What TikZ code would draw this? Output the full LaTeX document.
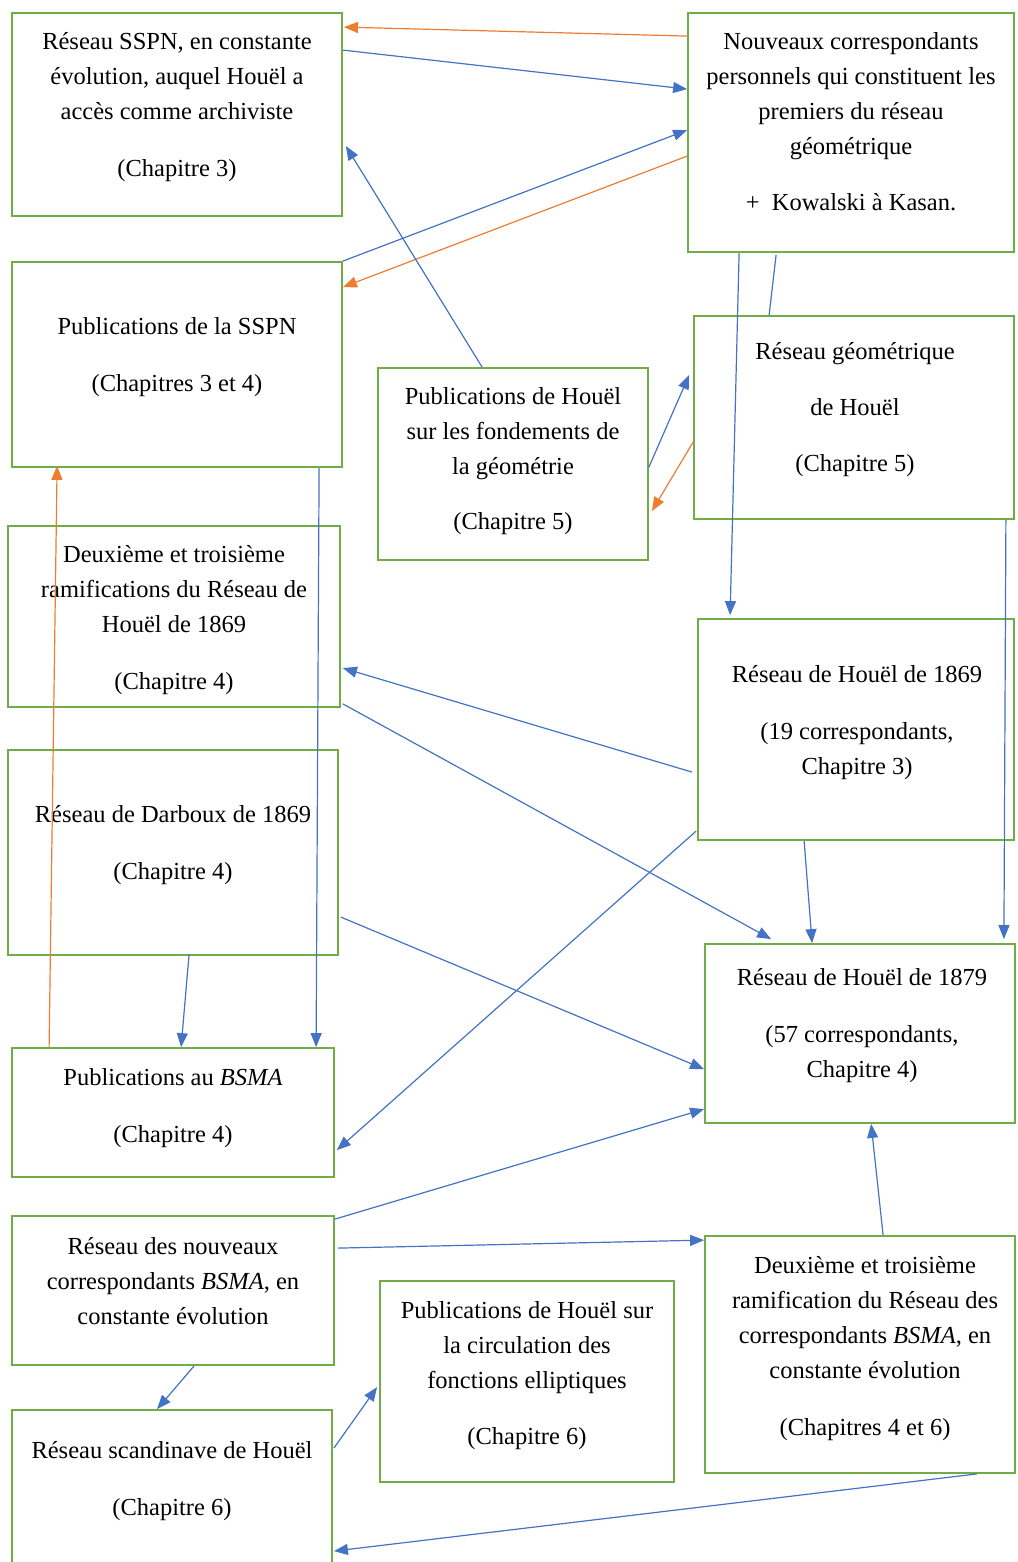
\documentclass[tikz,border=0pt]{standalone}
\usepackage{fontspec}
\setmainfont{Liberation Serif}
\newfontfamily\diagserif{Liberation Serif}
\usetikzlibrary{arrows.meta,calc}
\definecolor{boxgreen}{HTML}{70AD47}
\definecolor{arrblue}{HTML}{4472C4}
\definecolor{arrorange}{HTML}{ED7D31}
\tikzset{
  box/.style={draw=boxgreen, line width=1.8pt, rectangle, inner sep=0pt},
  txt/.style={anchor=north, align=center, inner sep=0pt, text=black,
    font=\diagserif\fontsize{24.5}{35}\selectfont},
  barrow/.style={draw=arrblue, line width=1.2pt, -{Triangle[length=14pt,width=11pt]}},
  oarrow/.style={draw=arrorange, line width=1.2pt, -{Triangle[length=14pt,width=11pt]}},
  bline/.style={draw=arrblue, line width=1.2pt},
}
\begin{document}
\begin{tikzpicture}[x=1pt,y=-1pt]
\useasboundingbox (0,0) rectangle (1017,1562);
\clip (0,0) rectangle (1017,1562);
% boxes
\node[box, minimum width=330pt, minimum height=203pt] (sspn) at (177,114.5) {};
\node[box, minimum width=326pt, minimum height=239pt] (nouv) at (851,132.5) {};
\node[box, minimum width=330pt, minimum height=205pt] (pubsspn) at (177,364.5) {};
\node[box, minimum width=270pt, minimum height=192pt] (fond) at (513,464) {};
\node[box, minimum width=320pt, minimum height=203pt] (geom) at (854,417.5) {};
\node[box, minimum width=332pt, minimum height=181pt] (ram69) at (174,616.5) {};
\node[box, minimum width=330pt, minimum height=205pt] (darb) at (173,852.5) {};
\node[box, minimum width=316pt, minimum height=221pt] (h69) at (856,729.5) {};
\node[box, minimum width=322pt, minimum height=129pt] (bsma) at (173,1112.5) {};
\node[box, minimum width=310pt, minimum height=179pt] (h79) at (860,1033.5) {};
\node[box, minimum width=322pt, minimum height=149pt] (nbsma) at (173,1290.5) {};
\node[box, minimum width=294pt, minimum height=201pt] (circ) at (527,1381.5) {};
\node[box, minimum width=310pt, minimum height=237pt] (ram2) at (860,1354.5) {};
\node[box, minimum width=320pt, minimum height=170pt] (scand) at (172,1495) {};
% texts
\node[txt] (tsspn) at (177,24.5) {\strut Réseau SSPN, en constante\\ évolution, auquel Houël a\\ accès comme archiviste\\[22pt] (Chapitre 3)};
\node[txt] (tnouv) at (851,24.5) {\strut Nouveaux correspondants\\ personnels qui constituent les\\ premiers du réseau\\ géométrique\\[21pt] +\ \ Kowalski à Kasan.};
\node[txt] (tpubsspn) at (177,309.5) {\strut Publications de la SSPN\\[22pt] (Chapitres 3 et 4)};
\node[txt] (tfond) at (513,379.5) {\strut Publications de Houël\\ sur les fondements de\\ la géométrie\\[20pt] (Chapitre 5)};
\node[txt] (tgeom) at (855,334.5) {\strut Réseau géométrique\\[21pt] de Houël\\[21pt] (Chapitre 5)};
\node[txt] (tram69) at (174,537.5) {\strut Deuxième et troisième\\ ramifications du Réseau de\\ Houël de 1869\\[22pt] (Chapitre 4)};
\node[txt] (tdarb) at (173,797.5) {\strut Réseau de Darboux de 1869\\[22pt] (Chapitre 4)};
\node[txt] (th69) at (857,657.5) {\strut Réseau de Houël de 1869\\[22pt] (19 correspondants,\\ Chapitre 3)};
\node[txt] (tbsma) at (173,1060.5) {\strut Publications au \textit{BSMA}\\[22pt] (Chapitre 4)};
\node[txt] (th79) at (862,960.5) {\strut Réseau de Houël de 1879\\[22pt] (57 correspondants,\\ Chapitre 4)};
\node[txt] (tnbsma) at (173,1229.5) {\strut Réseau des nouveaux\\ correspondants \textit{BSMA}, en\\ constante évolution};
\node[txt] (tcirc) at (527,1293.5) {\strut Publications de Houël sur\\ la circulation des\\ fonctions elliptiques\\[21pt] (Chapitre 6)};
\node[txt] (tram2) at (865,1248.5) {\strut Deuxième et troisième\\ ramification du Réseau des\\ correspondants \textit{BSMA}, en\\ constante évolution\\[22pt] (Chapitres 4 et 6)};
\node[txt] (tscand) at (172,1433.5) {\strut Réseau scandinave de Houël\\[22pt] (Chapitre 6)};
% connectors
\draw[oarrow] ($(nouv.north west)+(0,24)$) -- ($(sspn.north east)+(1,15)$);
\draw[barrow] ($(sspn.north east)+(0,38)$) -- ($(nouv.north west)+(0,77)$);
\draw[barrow] (pubsspn.north east) -- ($(nouv.north west)+(0,118)$);
\draw[oarrow] ($(nouv.north west)+(0,144)$) -- ($(pubsspn.north east)+(0,26)$);
\draw[barrow] ($(fond.north west)+(105,0)$) -- ($(sspn.north east)+(3,134)$);
\draw[barrow] ($(nouv.south west)+(52,0)$) -- ($(h69.north west)+(33,-3)$);
\draw[bline] ($(nouv.south west)+(89,2)$) -- ($(geom.north west)+(76,0)$);
\draw[barrow] ($(fond.north east)+(0,100)$) -- ($(geom.north west)+(-4,60)$);
\draw[oarrow] ($(geom.north west)+(0,127)$) -- ($(fond.north east)+(3,144)$);
\draw[barrow] ($(pubsspn.south west)+(308,0)$) -- ($(bsma.north west)+(305,0)$);
\draw[oarrow] ($(bsma.north west)+(38,0)$) -- ($(pubsspn.south west)+(46,-2)$);
\draw[barrow] ($(geom.south east)+(-9,0)$) -- ($(h79.north east)+(-12,-4)$);
\draw[barrow] ($(h69.north west)+(-5,154)$) -- ($(ram69.north east)+(2,143)$);
\draw[barrow] ($(ram69.south east)+(2,-4)$) -- ($(h79.north west)+(67,-4)$);
\draw[barrow] ($(h69.north west)+(-1,213)$) -- ($(bsma.north east)+(2,103)$);
\draw[barrow] ($(h69.south west)+(107,0)$) -- ($(h79.north west)+(108,0)$);
\draw[barrow] ($(darb.north east)+(2,168)$) -- ($(h79.north west)+(0,126)$);
\draw[barrow] ($(darb.south west)+(182,-2)$) -- ($(bsma.north west)+(170,0)$);
\draw[barrow] ($(nbsma.north east)+(0,4)$) -- ($(h79.north west)+(0,166)$);
\draw[barrow] ($(nbsma.north east)+(3,33)$) -- ($(ram2.north west)+(0,5)$);
\draw[barrow] ($(ram2.north west)+(179,0)$) -- ($(h79.south west)+(167,0)$);
\draw[barrow] ($(nbsma.south west)+(183,0)$) -- ($(scand.north west)+(146,0)$);
\draw[barrow] ($(scand.north east)+(1,39)$) -- ($(circ.north west)+(-2,107)$);
\draw[barrow] ($(ram2.south east)+(-39,0)$) -- ($(scand.north east)+(1,142)$);
\end{tikzpicture}
\end{document}
